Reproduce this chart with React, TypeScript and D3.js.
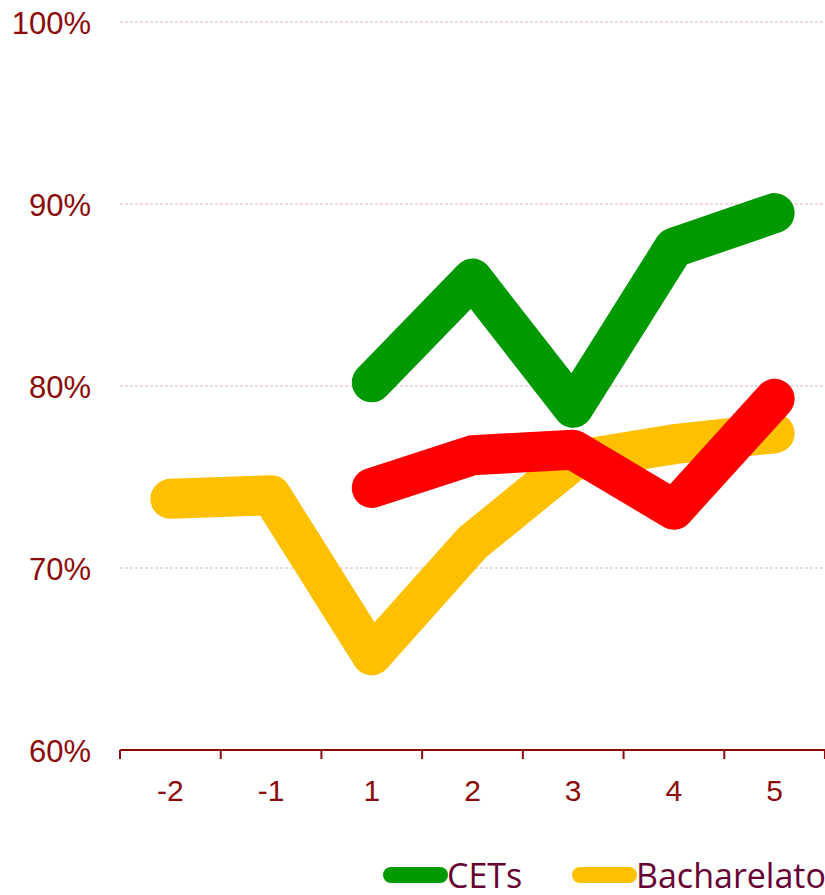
import React from "react";
import * as d3 from "d3";

const categories = ["-2", "-1", "1", "2", "3", "4", "5"];
const yTicks = [0.6, 0.7, 0.8, 0.9, 1.0];
const cetsValues: (number | null)[] = [null, null, 0.802, 0.859, 0.788, 0.876, 0.895];
const bachValues: (number | null)[] = [0.738, 0.740, 0.652, 0.714, 0.759, 0.768, 0.774];
const redValues: (number | null)[] = [null, null, 0.744, 0.762, 0.765, 0.732, 0.793];
const legendLabels = ["CETs", "Bacharelato"];

const W = 825, H = 895;
const left = 120, right = 825, top = 22, bottom = 750;

export default function App() {
  const x = d3.scaleBand<string>().domain(categories).range([left, right]);
  const y = d3.scaleLinear().domain([0.6, 1.0]).range([bottom, top]);
  const cx = (c: string) => (x(c) as number) + x.bandwidth() / 2;
  const line = d3
    .line<[string, number | null]>()
    .defined((d) => d[1] != null)
    .x((d) => cx(d[0]))
    .y((d) => y(d[1] as number));
  const series = [
    { vals: bachValues, color: "#FFC000" },
    { vals: redValues, color: "#FF0000" },
    { vals: cetsValues, color: "#009900" },
  ];
  const edges = categories.map((c) => x(c) as number).concat([right]);
  const legend = [
    { label: legendLabels[0], color: "#009900", x0: 383 },
    { label: legendLabels[1], color: "#FFC000", x0: 572 },
  ];
  return (
    <svg width={W} height={H} style={{ position: "absolute", left: 0, top: 0 }}>
      {yTicks.slice(1).map((t) => (
        <line key={t} x1={left} x2={right} y1={y(t)} y2={y(t)} stroke="#d9b9b9" strokeWidth={1} strokeDasharray="3,2" />
      ))}
      {yTicks.map((t) => (
        <text key={"l" + t} x={91} y={y(t) + 12} textAnchor="end" fontFamily="Liberation Sans, Arial, sans-serif" fontSize={31} fill="#8B0A0A">
          {d3.format(".0%")(t)}
        </text>
      ))}
      <line x1={left} x2={right} y1={bottom} y2={bottom} stroke="#8B0A0A" strokeWidth={2} />
      {edges.map((e, i) => (
        <line key={"t" + i} x1={e} x2={e} y1={bottom} y2={bottom + 9} stroke="#8B0A0A" strokeWidth={2} />
      ))}
      {categories.map((c) => (
        <text key={"c" + c} x={cx(c)} y={801} textAnchor="middle" fontFamily="Liberation Sans, Arial, sans-serif" fontSize={30} fill="#8B0A0A">
          {c}
        </text>
      ))}
      {series.map((s, i) => (
        <path
          key={i}
          d={line(categories.map((c, j) => [c, s.vals[j]] as [string, number | null])) || ""}
          fill="none"
          stroke={s.color}
          strokeWidth={40}
          strokeLinecap="round"
          strokeLinejoin="round"
        />
      ))}
      {legend.map((l) => (
        <g key={l.label}>
          <line x1={l.x0 + 8} x2={l.x0 + 57} y1={875} y2={875} stroke={l.color} strokeWidth={16} strokeLinecap="round" />
          <text x={l.x0 + 64} y={888} fontFamily="Open Sans, Noto Sans, sans-serif" fontSize={34} fill="#660033">
            {l.label}
          </text>
        </g>
      ))}
    </svg>
  );
}
